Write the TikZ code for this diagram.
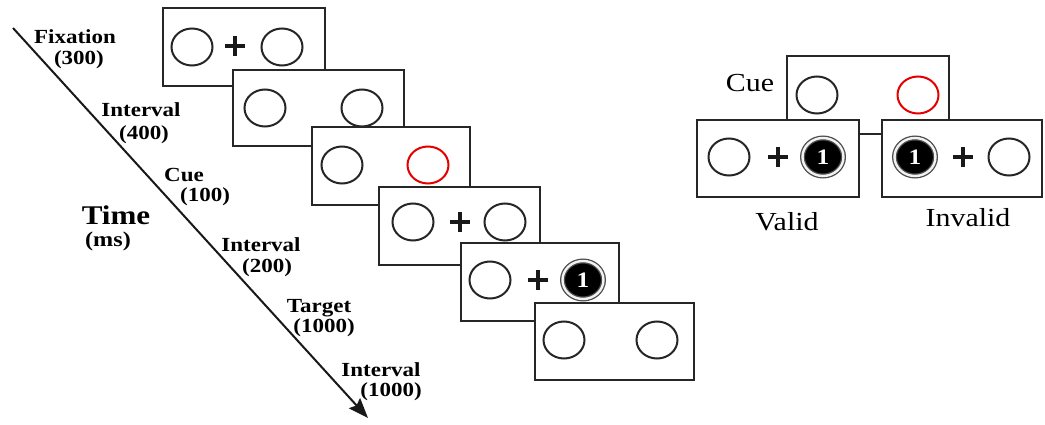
\documentclass[tikz,border=0pt]{standalone}
\usepackage{fontspec}
\setmainfont{Liberation Serif}[FakeStretch=1.15]
\usetikzlibrary{shapes.geometric,arrows.meta}
\begin{document}
\begin{tikzpicture}[x=1pt,y=-1pt,
  frame/.style={draw=black!85, line width=2pt, fill=white, inner sep=0pt, minimum height=77pt},
  ring/.style={ellipse, draw=black!85, line width=2pt, minimum width=41pt, minimum height=37pt, inner sep=0pt},
  redring/.style={ring, draw=red!90!black},
  target/.style={ellipse, fill=black, draw=black!70, double=white!90!gray, double distance=2.4pt, line width=1.3pt,
     minimum width=41pt, minimum height=38pt, inner sep=0pt, text=white, font=\fontsize{22}{24}\selectfont\bfseries},
  lab/.style={font=\fontsize{20}{22}\selectfont\bfseries, inner sep=0pt},
  word/.style={font=\fontsize{26}{28}\selectfont, inner sep=0pt},
  plus/.pic={\draw[line width=3.6pt, black!90] (-10,0) -- (10,0) (0,-10) -- (0,10);}
]
\useasboundingbox (0,0) rectangle (1045,425);

% time arrow
\coordinate (as) at (13,28);
\coordinate (ae) at (368,418);
\draw[line width=2pt, black!90, -{Stealth[length=20pt, width=15pt, inset=3pt]}] (as) -- (ae);

\node[lab] (l1) at (75,37) {Fixation};
\node[lab] (l1n) at (79,60) {(300)};
\node[lab] (l2) at (141,110) {Interval};
\node[lab] (l2n) at (144,135) {(400)};
\node[lab] (l3) at (184,175) {Cue};
\node[lab] (l3n) at (205,197) {(100)};
\node[lab, font=\fontsize{27}{29}\selectfont\bfseries] (tm) at (116,215) {Time};
\node[lab, font=\fontsize{21}{23}\selectfont\bfseries] (ms) at (108,241) {(ms)};
\node[lab] (l4) at (261,245) {Interval};
\node[lab] (l4n) at (267,268) {(200)};
\node[lab] (l5) at (319,308) {Target};
\node[lab] (l5n) at (324,328) {(1000)};
\node[lab] (l6) at (381,370) {Interval};
\node[lab] (l6n) at (391,392) {(1000)};

% sequence of frames
\node[frame, minimum width=162pt, minimum height=78pt] (b1) at (244,47) {};
\node[ring] (b1l) at (192,47) {};
\node[ring] (b1r) at (282,47) {};
\pic at (235,46) {plus};

\node[frame, minimum width=171pt, minimum height=76pt] (b2) at (318.5,108) {};
\node[ring] (b2l) at (265,108) {};
\node[ring] (b2r) at (362,108) {};

\node[frame, minimum width=158pt, minimum height=78pt] (b3) at (391,166) {};
\node[ring] (b3l) at (342,165) {};
\node[redring] (b3r) at (428,165) {};

\node[frame, minimum width=161pt, minimum height=78pt] (b4) at (459.5,226) {};
\node[ring] (b4l) at (413,222) {};
\node[ring] (b4r) at (505,222) {};
\pic at (460,222) {plus};

\node[frame, minimum width=158pt, minimum height=78pt] (b5) at (540,282) {};
\node[ring] (b5l) at (490,280) {};
\pic at (538,280) {plus};
\node[target] (b5t) at (583,280) {1};

\node[frame, minimum width=159pt, minimum height=77pt] (b6) at (614.5,341.5) {};
\node[ring] (b6l) at (564,340) {};
\node[ring] (b6r) at (657,340) {};

% right panel
\node[word] (cue) at (750,83) {Cue};
\node[frame, minimum width=162pt, minimum height=78pt] (cb) at (868,95) {};
\node[ring] (cbl) at (817,95) {};
\node[redring] (cbr) at (918,95) {};

\node[frame, minimum width=162pt, minimum height=77pt] (vb) at (778,158.5) {};
\node[ring] (vbl) at (729,157) {};
\pic at (778,157) {plus};
\node[target] (vbt) at (823,157) {1};

\node[frame, minimum width=160pt, minimum height=77pt] (ib) at (962,158.5) {};
\node[target] (ibt) at (915,157) {1};
\pic at (963,157) {plus};
\node[ring] (ibr) at (1009,157) {};

\node[word] (valid) at (787,222) {Valid};
\node[word] (invalid) at (968,218) {Invalid};
\end{tikzpicture}
\end{document}
